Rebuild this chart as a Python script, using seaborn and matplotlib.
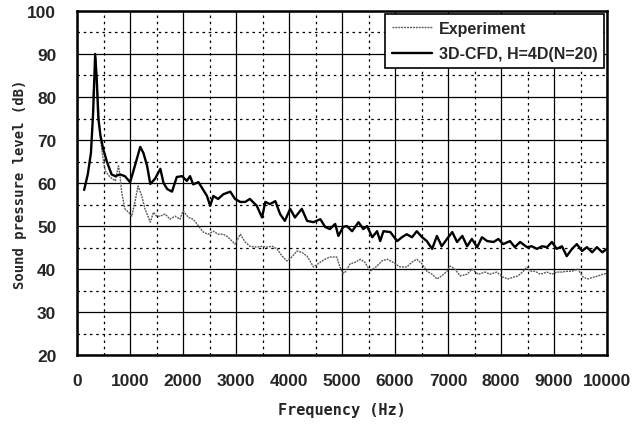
import numpy as np
import pandas as pd
import matplotlib
matplotlib.use("Agg")
import matplotlib.pyplot as plt
import seaborn as sns
from matplotlib.ticker import MultipleLocator
from matplotlib.lines import Line2D

# --- data ---
cfd_freq = [132, 200, 260, 300, 340, 370, 400, 440, 490, 560, 650, 720, 810, 900, 1000,
            1090, 1190, 1250, 1320, 1380, 1470, 1570, 1630, 1700, 1790, 1880, 1980, 2070,
            2130, 2190, 2290, 2350, 2450, 2510, 2570, 2660, 2760, 2890, 2980, 3080, 3170,
            3260, 3390, 3490, 3550, 3640, 3740, 3830, 3920, 4020, 4110, 4240, 4340, 4460,
            4590, 4680, 4770, 4870, 4930, 5020, 5090, 5190, 5310, 5400, 5470, 5570, 5660,
            5720, 5780, 5910, 6040, 6130, 6220, 6320, 6410, 6510, 6600, 6700, 6790, 6880,
            6980, 7080, 7170, 7270, 7360, 7450, 7550, 7640, 7740, 7860, 7950, 8040, 8170,
            8260, 8360, 8490, 8580, 8680, 8770, 8870, 8960, 9050, 9150, 9240, 9340, 9430,
            9530, 9620, 9720, 9810, 9910, 10000]
cfd_db = [58.4, 62.0, 67.0, 76.0, 90.0, 84.0, 75.0, 71.0, 68.0, 65.0, 62.0, 61.6, 62.0, 61.6, 60.2,
          64.0, 68.4, 67.0, 64.0, 59.8, 61.0, 63.3, 60.0, 58.6, 58.0, 61.4, 61.6, 60.5,
          61.6, 59.7, 60.2, 59.0, 57.0, 54.7, 57.0, 56.3, 57.4, 58.0, 56.3, 55.6, 55.6,
          56.3, 54.7, 52.0, 55.6, 55.1, 55.8, 52.8, 51.2, 54.0, 52.0, 54.0, 51.2, 50.9,
          51.6, 49.8, 49.3, 50.5, 47.7, 49.8, 50.0, 48.8, 50.9, 49.3, 50.0, 47.4, 48.8,
          46.5, 48.8, 48.6, 46.5, 47.4, 48.1, 47.4, 48.8, 47.4, 46.5, 44.7, 47.7, 45.3,
          47.0, 48.6, 46.3, 47.7, 45.3, 47.0, 45.1, 47.4, 46.5, 46.3, 47.0, 45.8, 46.5,
          45.1, 46.3, 45.1, 45.3, 44.7, 45.3, 45.1, 46.3, 44.7, 45.3, 43.0, 44.7, 45.8,
          44.2, 45.1, 43.9, 45.1, 43.9, 44.7]

exp_freq = [300, 350, 390, 430, 470, 530, 620, 720, 780, 810, 840, 900, 970, 1030, 1090,
            1150, 1220, 1280, 1380, 1440, 1500, 1570, 1660, 1750, 1850, 1940, 2000, 2100,
            2190, 2290, 2380, 2470, 2570, 2660, 2760, 2850, 2980, 3080, 3170, 3260, 3390,
            3490, 3580, 3680, 3770, 3870, 3960, 4050, 4150, 4240, 4340, 4460, 4590, 4680,
            4770, 4900, 4960, 5020, 5060, 5150, 5250, 5340, 5430, 5530, 5660, 5750, 5850,
            5960, 6090, 6220, 6320, 6410, 6510, 6600, 6700, 6790, 6880, 6980, 7040, 7130,
            7230, 7360, 7450, 7570, 7700, 7790, 7920, 8040, 8130, 8230, 8320, 8420, 8490,
            8550, 8640, 8740, 8870, 8960, 9050, 9150, 9240, 9340, 9450, 9550, 9640, 9740,
            9830, 9920, 10000]
exp_db = [80.0, 89.0, 80.0, 71.8, 67.2, 62.8, 61.4, 60.5, 64.0, 61.6, 57.9, 54.0, 53.2, 52.3, 55.6,
          59.3, 57.0, 54.0, 50.9, 53.2, 52.3, 52.3, 52.8, 51.6, 52.3, 51.6, 53.5, 52.0,
          51.6, 50.0, 48.6, 48.1, 48.8, 48.1, 48.1, 47.4, 45.8, 48.1, 46.3, 45.3, 45.1,
          45.3, 45.1, 45.3, 44.7, 43.0, 41.9, 42.8, 44.2, 43.9, 43.0, 40.5, 41.6, 42.3,
          42.8, 42.8, 40.5, 39.0, 39.3, 41.2, 41.6, 42.3, 41.6, 39.5, 40.7, 41.9, 42.3,
          41.6, 40.5, 40.5, 41.6, 42.3, 41.2, 39.5, 38.8, 37.7, 38.4, 39.5, 40.7, 40.0,
          38.4, 38.8, 40.0, 38.8, 39.3, 38.8, 39.3, 38.1, 37.7, 38.1, 38.4, 39.5, 40.5,
          39.5, 39.5, 38.8, 39.3, 38.8, 39.3, 39.3, 39.5, 39.5, 40.0, 38.1, 37.7, 38.1,
          38.4, 38.8, 39.0]

x_ticks = [0, 1000, 2000, 3000, 4000, 5000, 6000, 7000, 8000, 9000, 10000]
y_ticks = [20, 30, 40, 50, 60, 70, 80, 90, 100]
series_names = ["Experiment", "3D-CFD, H=4D(N=20)"]

df = pd.concat([
    pd.DataFrame({"Frequency": exp_freq, "SPL": exp_db, "series": series_names[0]}),
    pd.DataFrame({"Frequency": cfd_freq, "SPL": cfd_db, "series": series_names[1]}),
], ignore_index=True)

sns.set_style("white")
plt.rcParams["font.family"] = ["Liberation Sans", "DejaVu Sans"]

EXP_COLOR = "#5a5a5a"
EXP_DASH = (1.4, 0.7)

fig = plt.figure(figsize=(6.43, 4.27), dpi=100)
ax = fig.add_axes([0.12, 0.166, 0.824, 0.806])

sns.lineplot(data=df, x="Frequency", y="SPL", hue="series", style="series",
             palette={series_names[0]: EXP_COLOR, series_names[1]: "#000000"},
             dashes={series_names[0]: EXP_DASH, series_names[1]: ""},
             size="series", sizes={series_names[0]: 1.0, series_names[1]: 1.7},
             estimator=None, sort=False, ax=ax, legend=False)

ax.set_xlim(0, 10000)
ax.set_ylim(20, 100)
ax.set_xticks(x_ticks)
ax.set_yticks(y_ticks)
ax.xaxis.set_minor_locator(MultipleLocator(500))
ax.yaxis.set_minor_locator(MultipleLocator(5))
ax.grid(which="major", color="black", linewidth=0.9, linestyle="-")
ax.grid(which="minor", color="black", linewidth=0.9, linestyle=(0, (2, 3)))
ax.set_axisbelow(True)
for s in ax.spines.values():
    s.set_color("black")
    s.set_linewidth(1.8)
ax.tick_params(axis="both", which="both", length=0, labelsize=12.5)
ax.tick_params(axis="x", pad=13)
ax.tick_params(axis="y", pad=15)
for lbl in ax.get_xticklabels() + ax.get_yticklabels():
    lbl.set_fontweight("bold")

ax.set_xlabel("Frequency (Hz)", fontsize=11, fontweight="bold",
              family=["DejaVu Sans Mono"])
ax.set_ylabel("Sound pressure level (dB)", fontsize=10, fontweight="bold",
              family=["DejaVu Sans Mono"])
ax.xaxis.set_label_coords(0.5, -0.137)
ax.yaxis.set_label_coords(-0.095, 0.5)

handles = [Line2D([], [], color=EXP_COLOR, lw=1.0, linestyle=(0, EXP_DASH)),
           Line2D([], [], color="black", lw=1.7)]
leg = ax.legend(handles, series_names, loc="upper right", bbox_to_anchor=(0.998, 0.997),
                borderaxespad=0.1,
                fancybox=False, framealpha=1, edgecolor="black", handlelength=2.5,
                borderpad=0.45, labelspacing=0.65, handletextpad=0.4,
                prop={"size": 11.5, "weight": "bold"})
leg.get_frame().set_linewidth(1.2)

fig.savefig("out.png", dpi=100)
